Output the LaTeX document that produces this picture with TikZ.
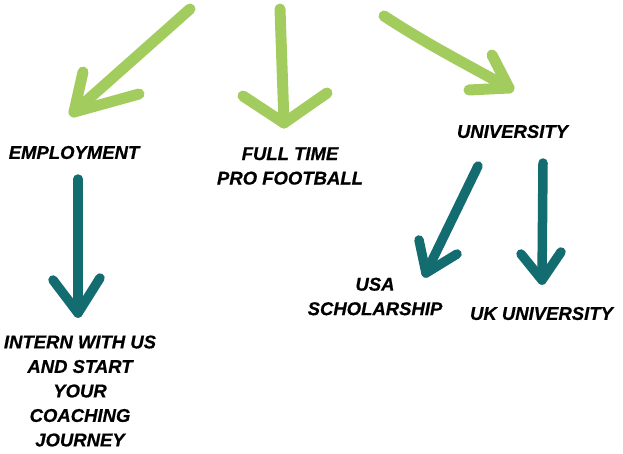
\documentclass[tikz,border=0pt]{standalone}
\usepackage{fontspec}
\setmainfont{Liberation Sans}[BoldItalicFeatures={FakeBold=0.6}]
\definecolor{lgreen}{RGB}{163,204,94}
\definecolor{teal}{RGB}{18,108,112}
\tikzset{
  lbl/.style={inner sep=0pt, align=center, text=black,
    font=\fontsize{18.5}{24.5}\selectfont\bfseries\itshape},
  garrow/.style={draw=lgreen, line width=11pt, line cap=round, line join=round},
  tarrow/.style={draw=teal, line width=9.5pt, line cap=round, line join=round}
}
\begin{document}
\begin{tikzpicture}[x=1pt,y=-1pt]
\useasboundingbox (0,0) rectangle (623,453);
% text nodes
\node[lbl] (emp) at (74,152.5) {EMPLOYMENT};
\node[lbl] (pro) at (290,166) {FULL TIME\\PRO FOOTBALL};
\node[lbl] (uni) at (512.5,131.5) {UNIVERSITY};
\node[lbl] (usa) at (375,296.5) {USA\\SCHOLARSHIP};
\node[lbl] (uk) at (541.5,313.5) {UK UNIVERSITY};
\node[lbl] (intern) at (80,391) {INTERN WITH US\\AND START\\YOUR\\COACHING\\JOURNEY};
% arrow coordinates
\coordinate (g1s) at (190,9);
\coordinate (g1t) at (74,112);
\coordinate (g2s) at (280,9);
\coordinate (g2t) at (284,123);
\coordinate (g3s) at (384,16);
\coordinate (g3t) at (509,88);
\coordinate (t1s) at (78,179);
\coordinate (t1t) at (78,313);
\coordinate (t2s) at (478,166);
\coordinate (t2t) at (426,273);
\coordinate (t3s) at (543,163);
\coordinate (t3t) at (542,280);
% green arrows
\draw[garrow] (g1s) -- (g1t);
\draw[garrow] (83,72) -- (g1t) -- (139,94);
\draw[garrow] (g2s) -- (g2t);
\draw[garrow] (243,96) -- (g2t) -- (327,93);
\draw[garrow] (g3s) .. controls (430,46) and (470,66) .. (g3t);
\draw[garrow] (492,55) -- (g3t) -- (469,90);
% teal arrows
\draw[tarrow] (t1s) -- (t1t);
\draw[tarrow] (53,280) -- (t1t) -- (100,278);
\draw[tarrow] (t2s) -- (t2t);
\draw[tarrow] (419,240) -- (t2t) -- (457,254);
\draw[tarrow] (t3s) -- (t3t);
\draw[tarrow] (521,254) -- (t3t) -- (561,252);
\end{tikzpicture}
\end{document}
